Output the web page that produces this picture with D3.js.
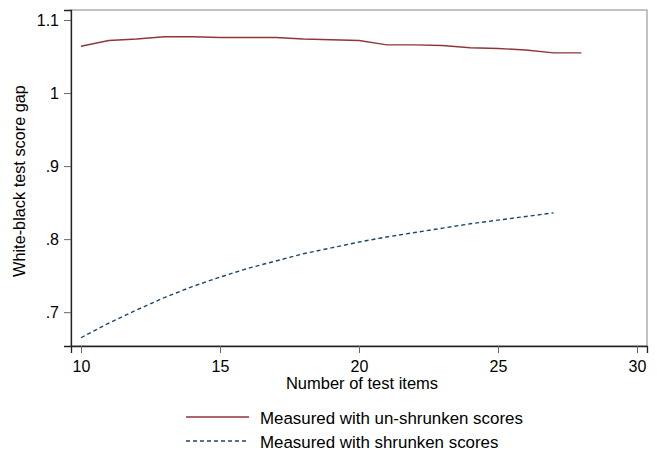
<!DOCTYPE html>
<html><head><meta charset="utf-8">
<script src="https://cdn.jsdelivr.net/npm/d3@7"></script>
<style>body{margin:0;background:#fff}svg{display:block}text{font-family:"Liberation Sans",Arial,sans-serif;fill:#000}</style>
</head><body>
<script>
const itemsUnshrunk = [10,11,12,13,14,15,16,17,18,19,20,21,22,23,24,25,26,27,28];
const gapUnshrunk = [1.064,1.072,1.074,1.077,1.077,1.076,1.076,1.076,1.074,1.073,1.072,1.066,1.066,1.065,1.062,1.061,1.059,1.055,1.055];
const itemsShrunk = [10,11,12,13,14,15,16,17,18,19,20,21,22,23,24,25,26,27];
const gapShrunk = [0.665,0.685,0.703,0.720,0.735,0.748,0.760,0.770,0.780,0.788,0.796,0.803,0.809,0.815,0.821,0.826,0.831,0.836];
const xTicks = [10,15,20,25,30];
const yTicks = [0.7,0.8,0.9,1.0,1.1];
const yTickLabels = [".7",".8",".9","1","1.1"];
const seriesNames = ["Measured with un-shrunken scores","Measured with shrunken scores"];

const W=657,H=452;
const L=71,R=647,T=10,B=346;
const svg=d3.select("body").append("svg").attr("width",W).attr("height",H);
const x=d3.scaleLinear().domain([9.64,30.36]).range([L,R]);
const y=d3.scaleLinear().domain([0.6537,1.1137]).range([B,T]);

// frame
svg.append("rect").attr("x",L).attr("y",T).attr("width",R-L).attr("height",B-T)
  .attr("fill","none").attr("stroke","#9a9a9a").attr("stroke-width",1.2);

const xa=svg.append("g").attr("transform",`translate(0,${B})`)
  .call(d3.axisBottom(x).tickValues(xTicks).tickSize(7).tickPadding(8).tickFormat(d3.format("d")));
const ya=svg.append("g").attr("transform",`translate(${L},0)`)
  .call(d3.axisLeft(y).tickValues(yTicks).tickSize(7).tickPadding(5).tickFormat((d,i)=>yTickLabels[i]));
[xa,ya].forEach(a=>{
  a.select(".domain").attr("stroke","#222").attr("stroke-width",1.3);
  a.selectAll(".tick line").attr("stroke","#666").attr("stroke-width",1);
  a.selectAll(".tick text").attr("font-size","16px").attr("font-family","Liberation Sans, Arial, sans-serif").attr("fill","#000");
});

const line=d3.line().x(d=>x(d[0])).y(d=>y(d[1]));
svg.append("path").datum(itemsUnshrunk.map((v,i)=>[v,gapUnshrunk[i]]))
  .attr("d",line).attr("fill","none").attr("stroke","#90353b").attr("stroke-width",1.4);
svg.append("path").datum(itemsShrunk.map((v,i)=>[v,gapShrunk[i]]))
  .attr("d",line).attr("fill","none").attr("stroke","#1a476f").attr("stroke-width",1.4).attr("stroke-dasharray","4,3");

// axis titles
svg.append("text").attr("x",(L+R)/2+3).attr("y",389).attr("text-anchor","middle").attr("font-size","16.5px").text("Number of test items");
svg.append("text").attr("transform",`translate(25,${(T+B)/2+3}) rotate(-90)`).attr("text-anchor","middle").attr("font-size","16.3px").text("White-black test score gap");

// legend
const lg=[{c:"#90353b",d:null,yy:417},{c:"#1a476f",d:"4,3",yy:441}];
lg.forEach((o,i)=>{
  svg.append("line").attr("x1",186).attr("x2",249).attr("y1",o.yy).attr("y2",o.yy)
    .attr("stroke",o.c).attr("stroke-width",1.4).attr("stroke-dasharray",o.d);
  svg.append("text").attr("x",260).attr("y",o.yy+7).attr("font-size","16.9px").text(seriesNames[i]);
});
</script>
</body></html>
